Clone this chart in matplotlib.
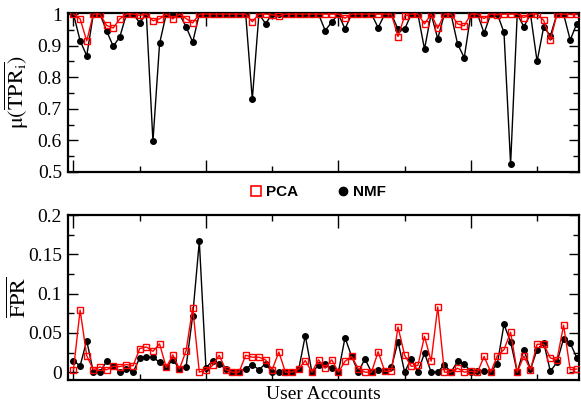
import matplotlib
matplotlib.use("Agg")
import matplotlib.pyplot as plt
from matplotlib.ticker import MultipleLocator, FixedLocator
from matplotlib.lines import Line2D
import numpy as np

plt.rcParams['font.family'] = ['Liberation Serif', 'DejaVu Serif']
plt.rcParams['mathtext.fontset'] = 'stix'

# User account index
accounts = list(range(77))

nmf_tpr = [1.0, 0.916, 0.868, 1.0, 1.0, 0.947, 0.898, 0.928, 1.0, 1.0,
           0.973, 1.0, 0.597, 0.907, 1.0, 1.0, 1.0, 0.96, 0.911, 1.0,
           1.0, 1.0, 1.0, 1.0, 1.0, 1.0, 1.0, 0.73, 1.0, 0.97,
           1.0, 1.0, 1.0, 1.0, 1.0, 1.0, 1.0, 1.0, 0.948, 0.975,
           1.0, 0.953, 1.0, 1.0, 1.0, 1.0, 0.957, 1.0, 1.0, 0.952,
           0.952, 1.0, 1.0, 0.889, 1.0, 0.922, 1.0, 1.0, 0.905, 0.862,
           1.0, 1.0, 0.94, 1.0, 1.0, 0.942, 0.525, 1.0, 0.96, 1.0,
           0.85, 0.96, 0.931, 1.0, 1.0, 0.918, 0.97]

pca_tpr = [1.0, 0.985, 0.915, 1.0, 1.0, 0.964, 0.956, 0.985, 1.0, 1.0,
           0.996, 1.0, 0.979, 0.985, 1.0, 0.985, 1.0, 0.986, 0.972, 1.0,
           1.0, 1.0, 1.0, 1.0, 1.0, 1.0, 1.0, 0.976, 1.0, 1.0,
           0.998, 0.993, 1.0, 1.0, 1.0, 1.0, 1.0, 1.0, 1.0, 1.0,
           1.0, 0.987, 1.0, 1.0, 1.0, 1.0, 1.0, 1.0, 1.0, 0.929,
           0.994, 1.0, 1.0, 0.969, 1.0, 0.955, 1.0, 1.0, 0.969, 0.963,
           1.0, 1.0, 0.986, 1.0, 0.998, 1.0, 1.0, 1.0, 0.989, 1.0,
           1.0, 0.98, 0.917, 1.0, 1.0, 0.999, 1.0]

nmf_fpr = [0.0146, 0.008, 0.040, 0.0, 0.0, 0.0138, 0.0074, 0.0, 0.0045, 0.0,
           0.018, 0.019, 0.019, 0.0125, 0.006, 0.016, 0.004, 0.0066, 0.072, 0.1666,
           0.0055, 0.0142, 0.011, 0.0035, 0.0, 0.0, 0.0045, 0.0096, 0.003, 0.0108,
           0.0, 0.0, 0.0, 0.0, 0.0035, 0.0465, 0.0, 0.0085, 0.010, 0.005,
           0.0, 0.044, 0.020, 0.0, 0.0168, 0.0, 0.003, 0.001, 0.006, 0.039,
           0.0, 0.017, 0.0, 0.0244, 0.0, 0.0, 0.0096, 0.0, 0.0138, 0.011,
           0.0, 0.001, 0.001, 0.0, 0.011, 0.0607, 0.0385, 0.0, 0.0287, 0.0036,
           0.0287, 0.0375, 0.001, 0.0125, 0.0427, 0.037, 0.018]

pca_fpr = [0.003, 0.079, 0.021, 0.003, 0.0066, 0.003, 0.0074, 0.007, 0.0096, 0.008,
           0.030, 0.032, 0.0265, 0.036, 0.006, 0.022, 0.004, 0.027, 0.082, 0.0,
           0.003, 0.0085, 0.0215, 0.003, 0.0, 0.0, 0.0215, 0.019, 0.019, 0.0157,
           0.003, 0.0257, 0.0, 0.0, 0.004, 0.0147, 0.0, 0.0157, 0.005, 0.0157,
           0.0, 0.0138, 0.020, 0.0045, 0.0, 0.0, 0.026, 0.001, 0.001, 0.0575,
           0.0215, 0.0074, 0.0085, 0.0455, 0.014, 0.083, 0.0, 0.0, 0.005, 0.0,
           0.001, 0.0, 0.020, 0.0, 0.021, 0.0287, 0.0507, 0.0, 0.0205, 0.003,
           0.0355, 0.0355, 0.018, 0.0157, 0.0597, 0.003, 0.004]

fig = plt.figure(figsize=(5.81, 4.09), dpi=100)
ax1 = fig.add_axes([0.1162, 0.5795, 0.8812, 0.3899])
ax2 = fig.add_axes([0.1162, 0.0709, 0.8812, 0.4034])

red = '#ff0000'

def draw(ax, nmf, pca):
    ax.plot(accounts, nmf, color='black', lw=1.0, marker='o', ms=4.0,
            mfc='black', mec='black', zorder=3)
    ax.plot(accounts, pca, color=red, lw=1.0, marker='s', ms=4.4,
            mfc='none', mec=red, mew=1.0, zorder=4)
    ax.set_xlim(-0.9, 76.4)
    ax.xaxis.set_major_locator(FixedLocator([0, 20, 40, 60]))
    ax.xaxis.set_minor_locator(FixedLocator([10, 30, 50, 70]))
    ax.tick_params(axis='x', which='both', labelbottom=False, direction='in',
                   top=True, bottom=True)
    ax.tick_params(axis='x', which='major', length=9, width=1.0)
    ax.tick_params(axis='x', which='minor', length=4.5, width=1.0)
    ax.tick_params(axis='y', which='both', direction='in', left=True, right=True,
                   labelsize=14, pad=4)
    ax.tick_params(axis='y', which='major', length=7, width=1.0)
    ax.tick_params(axis='y', which='minor', length=4, width=1.0)
    for s in ax.spines.values():
        s.set_linewidth(1.6)

draw(ax1, nmf_tpr, pca_tpr)
ax1.set_ylim(0.5, 1.005)
ax1.yaxis.set_minor_locator(MultipleLocator(0.05))
ax1.set_yticks([0.5, 0.6, 0.7, 0.8, 0.9, 1.0])
ax1.set_yticklabels(['0.5', '0.6', '0.7', '0.8', '0.9', '1'])
ax1.set_ylabel(r'$\mathrm{μ}(\overline{\mathrm{TPR}_{\mathrm{i}}})$', fontsize=16)
ax1.yaxis.set_label_coords(-0.072, 0.5)

draw(ax2, nmf_fpr, pca_fpr)
ax2.set_ylim(-0.01, 0.2)
ax2.set_yticks([0, 0.05, 0.1, 0.15, 0.2])
ax2.set_yticklabels(['0', '0.05', '0.1', '0.15', '0.2'])
ax2.yaxis.set_minor_locator(FixedLocator([0.025, 0.075, 0.125, 0.175]))
ax2.set_ylabel(r'$\overline{\mathrm{FPR}}$', fontsize=16)
ax2.yaxis.set_label_coords(-0.072, 0.5)
ax2.set_xlabel('User Accounts', fontsize=14, labelpad=4)

handles = [Line2D([], [], ls='none', marker='s', ms=7, mfc='none', mec=red, mew=1.2),
           Line2D([], [], ls='none', marker='o', ms=6, mfc='black', mec='black')]
fig.legend(handles, ['PCA', 'NMF'], loc='center', bbox_to_anchor=(0.547, 0.53),
           ncol=2, frameon=False, handletextpad=0.3, handlelength=0.8,
           columnspacing=2.5,
           prop={'family': 'Liberation Sans', 'size': 11, 'weight': 'bold'})

fig.savefig('out.png', dpi=100)
